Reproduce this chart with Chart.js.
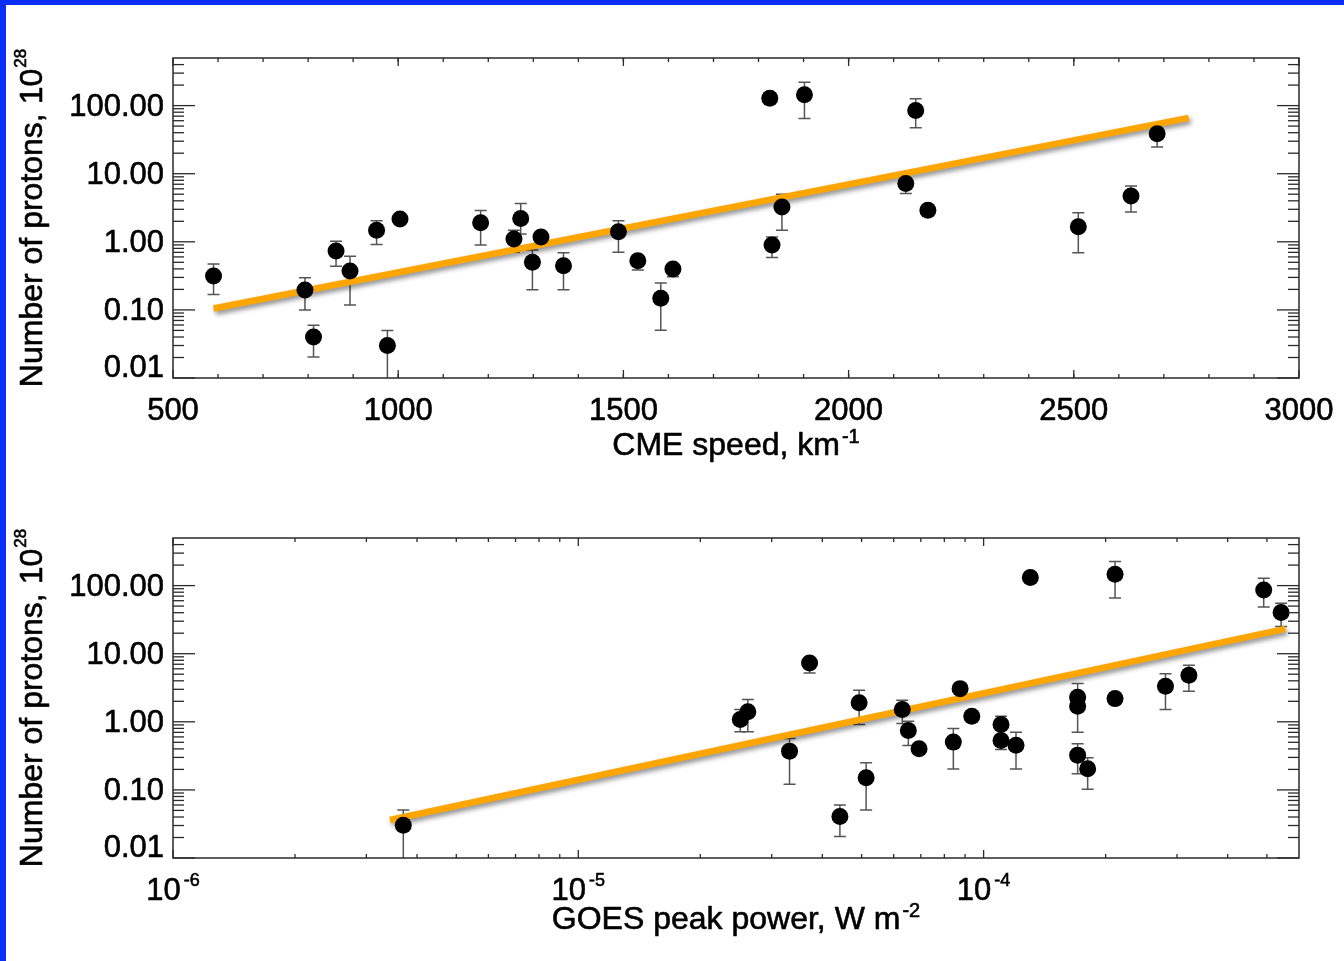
<!DOCTYPE html>
<html>
<head>
<meta charset="utf-8">
<title>Number of protons vs CME speed and GOES peak power</title>
<script src="https://cdn.jsdelivr.net/npm/chart.js@4/dist/chart.umd.min.js"></script>
<style>
  html, body { margin: 0; padding: 0; background: #ffffff; }
  body { width: 1344px; height: 961px; position: relative; overflow: hidden; }
  canvas.panel { position: absolute; left: 0; }
  #frameLeft { position: absolute; left: 0; top: 0; width: 6px; height: 961px; background: #0b2ef6; }
  #frameTop { position: absolute; left: 0; top: 0; width: 1344px; height: 5px; background: #0b2ef6; }
</style>
</head>
<body>
<canvas id="speedChart" class="panel" width="1344" height="480" style="top:0px"></canvas>
<canvas id="goesChart" class="panel" width="1344" height="481" style="top:480px"></canvas>
<div id="frameLeft"></div>
<div id="frameTop"></div>
<script>
// ---- Upper panel: CME speed (km/s) vs number of protons (1e28) ----
const cmeSpeed = [590, 793, 812, 862, 893, 952, 976, 1004, 1183, 1257, 1272, 1298, 1317, 1367,
                  1489, 1532, 1583, 1610, 1825, 1830, 1852, 1902, 2127, 2149, 2176, 2510, 2627, 2685];
const speedProtons = [0.315, 0.196, 0.040, 0.73, 0.372, 1.48, 0.030, 2.17, 1.90, 1.10, 2.20, 0.50, 1.18, 0.445,
                      1.40, 0.527, 0.148, 0.398, 128, 0.895, 3.25, 144, 7.16, 84.8, 2.91, 1.66, 4.71, 38.6];
const speedErrLow = [0.168, 0.100, 0.0203, 0.436, 0.118, 0.916, 0.005, null, 0.895, 0.70, 1.3, 0.198, null, 0.198,
                     0.70, 0.385, 0.0504, 0.307, null, 0.59, 1.48, 64.7, 5.11, 47.3, null, 0.69, 2.75, 24.6];
const speedErrHigh = [0.472, 0.297, 0.0597, 1.02, 0.611, 2.03, 0.0498, null, 2.88, 1.48, 3.65, 0.756, null, 0.69,
                      2.03, null, 0.248, null, null, 1.18, 4.99, 220, null, 126, null, 2.66, 6.61, 51];
const speedFitX = [590, 2755];
const speedFitY = [0.105, 66];

// ---- Lower panel: GOES peak power (W m^-2) vs number of protons (1e28) ----
const goesFlux = [3.70e-6, 2.51e-5, 2.62e-5, 3.32e-5, 3.72e-5, 4.42e-5, 4.93e-5, 5.13e-5, 6.30e-5, 6.52e-5,
                  6.93e-5, 8.42e-5, 8.75e-5, 9.35e-5, 1.104e-4, 1.104e-4, 1.202e-4, 1.304e-4, 1.706e-4, 1.706e-4,
                  1.706e-4, 1.806e-4, 2.11e-4, 2.11e-4, 2.81e-4, 3.21e-4, 4.91e-4, 5.42e-4];
const goesProtons = [0.0303, 1.08, 1.40, 0.371, 7.31, 0.0407, 1.90, 0.151, 1.51, 0.746,
                     0.402, 0.503, 3.07, 1.21, 0.913, 0.532, 0.454, 131, 2.29, 1.69,
                     0.324, 0.205, 147, 2.19, 3.32, 4.81, 86.5, 40.3];
const goesErrLow = [0.005, 0.714, 0.714, 0.121, 5.21, 0.0207, 0.913, 0.0508, 0.944, 0.45,
                    0.36, 0.202, null, null, null, 0.393, 0.202, null, null, 0.705,
                    0.173, 0.102, 66, null, 1.51, 2.81, 48.3, 25.1];
const goesErrHigh = [0.0508, 1.51, 2.12, 0.57, null, 0.0601, 2.9, 0.251, 2.07, 1.02,
                     null, 0.798, null, null, 1.21, null, 0.705, null, 3.64, null,
                     0.476, 0.297, 225, null, 5.09, 6.74, 128, 55.2];
const goesFitX = [3.43e-6, 5.55e-4];
const goesFitY = [0.0362, 23.2];

// ---- Axis ticks ----
const protonTickValues = [0.01, 0.1, 1, 10, 100];
const protonTickLabels = ['0.01', '0.10', '1.00', '10.00', '100.00'];
const speedTickValues = [500, 1000, 1500, 2000, 2500, 3000];
const speedTickLabels = ['500', '1000', '1500', '2000', '2500', '3000'];
const goesTickValues = [1e-6, 1e-5, 1e-4];
const goesTickExponents = ['-6', '-5', '-4'];

const FONT = '"Liberation Sans", Arial, Helvetica, sans-serif';
const AXIS_COLOR = '#2a2a2a';
const ERR_COLOR = '#555555';
const FIT_COLOR = '#FFA500';
const TEXT_COLOR = '#000000';

function logMinors(min, max) {
  const out = [];
  for (let e = Math.floor(Math.log10(min)); e <= Math.ceil(Math.log10(max)); e++) {
    for (let m = 2; m <= 9; m++) {
      const v = m * Math.pow(10, e);
      if (v > min * 1.0001 && v < max * 0.9999) out.push(v);
    }
  }
  return out;
}
function linearMinors(min, max, step) {
  const out = [];
  for (let v = min + step; v < max; v += step) out.push(v);
  return out;
}

// filled text with a hairline outline so the glyphs read a little heavier
function heavyText(ctx, s, x, y) {
  ctx.fillText(s, x, y);
  ctx.strokeText(s, x, y);
}

// text with a raised exponent, centred on x
function drawWithExponent(ctx, base, exp, x, y, baseSize, expSize, raise, gap) {
  ctx.font = baseSize + 'px ' + FONT;
  const wb = ctx.measureText(base).width;
  ctx.font = expSize + 'px ' + FONT;
  const we = ctx.measureText(exp).width;
  const start = x - (wb + gap + we) / 2;
  ctx.textAlign = 'left';
  ctx.textBaseline = 'alphabetic';
  ctx.font = baseSize + 'px ' + FONT;
  heavyText(ctx, base, start, y);
  ctx.font = expSize + 'px ' + FONT;
  heavyText(ctx, exp, start + wb + gap, y - raise);
}

const errorBarPlugin = {
  id: 'errorBars',
  beforeDatasetsDraw(chart, args, opts) {
    const { ctx, chartArea } = chart;
    const xs = chart.scales.x, ys = chart.scales.y;
    ctx.save();
    ctx.beginPath();
    ctx.rect(chartArea.left, chartArea.top, chartArea.right - chartArea.left, chartArea.bottom - chartArea.top);
    ctx.clip();
    ctx.strokeStyle = ERR_COLOR;
    ctx.lineWidth = 1.5;
    const cap = 6;
    opts.x.forEach((xv, i) => {
      const px = xs.getPixelForValue(xv);
      const py = ys.getPixelForValue(opts.y[i]);
      [opts.lo[i], opts.hi[i]].forEach(b => {
        if (b === null || b === undefined) return;
        const pb = ys.getPixelForValue(b);
        ctx.beginPath();
        ctx.moveTo(px, py); ctx.lineTo(px, pb);
        ctx.moveTo(px - cap, pb); ctx.lineTo(px + cap, pb);
        ctx.stroke();
      });
    });
    ctx.restore();
  }
};

const fitShadowPlugin = {
  id: 'fitShadow',
  beforeDatasetDraw(chart, args) {
    if (args.index !== 1) return;
    const ctx = chart.ctx;
    ctx.save();
    ctx.shadowColor = 'rgba(0,0,0,0.45)';
    ctx.shadowBlur = 5;
    ctx.shadowOffsetX = 2;
    ctx.shadowOffsetY = 3;
  },
  afterDatasetDraw(chart, args) {
    if (args.index !== 1) return;
    chart.ctx.restore();
  }
};

const framePlugin = {
  id: 'frame',
  afterDraw(chart, args, o) {
    const { ctx, chartArea: a } = chart;
    const xs = chart.scales.x, ys = chart.scales.y;
    ctx.save();
    ctx.strokeStyle = AXIS_COLOR;
    ctx.lineWidth = 1.5;
    ctx.strokeRect(a.left, a.top, a.right - a.left, a.bottom - a.top);

    const seg = (x1, y1, x2, y2) => { ctx.beginPath(); ctx.moveTo(x1, y1); ctx.lineTo(x2, y2); ctx.stroke(); };
    ctx.lineWidth = 1.3;
    o.xMajor.forEach(v => { const p = xs.getPixelForValue(v); seg(p, a.bottom, p, a.bottom - 8); seg(p, a.top, p, a.top + 8); });
    o.xMinor.forEach(v => { const p = xs.getPixelForValue(v); seg(p, a.bottom, p, a.bottom - 4); seg(p, a.top, p, a.top + 4); });
    o.yMajor.forEach(v => { const p = ys.getPixelForValue(v); seg(a.left, p, a.left + 22, p); seg(a.right, p, a.right - 22, p); });
    o.yMinor.forEach(v => { const p = ys.getPixelForValue(v); seg(a.left, p, a.left + 11, p); seg(a.right, p, a.right - 11, p); });

    // text styling
    ctx.fillStyle = TEXT_COLOR;
    ctx.strokeStyle = TEXT_COLOR;
    ctx.lineWidth = 0.6;
    ctx.lineJoin = 'round';

    // y tick labels
    ctx.font = '31px ' + FONT;
    ctx.textAlign = 'right';
    ctx.textBaseline = 'alphabetic';
    o.yMajor.forEach((v, i) => {
      const p = ys.getPixelForValue(v);
      heavyText(ctx, o.yLabels[i], a.left - 9, Math.min(p + 10.5, a.bottom - 1));
    });

    // x tick labels
    const lblY = a.bottom + 41.5;
    o.xMajor.forEach((v, i) => {
      const p = xs.getPixelForValue(v);
      if (o.xExponents) {
        drawWithExponent(ctx, '10', o.xExponents[i], p, lblY, 31, 18, 14, 3);
      } else {
        ctx.font = '31px ' + FONT;
        ctx.textAlign = 'center';
        heavyText(ctx, o.xLabels[i], p, lblY);
      }
    });

    // axis titles
    const cx = (a.left + a.right) / 2;
    drawWithExponent(ctx, o.xTitle[0], o.xTitle[1], cx, a.bottom + o.xTitleOffset, 32, 20, 12, 2);
    ctx.save();
    ctx.translate(41.5, (a.top + a.bottom) / 2);
    ctx.rotate(-Math.PI / 2);
    drawWithExponent(ctx, 'Number of protons, 10', '28', 0, 0, 32, 17, 16, 1);
    ctx.restore();
    ctx.restore();
  }
};

function makePanel(canvasId, spec) {
  const points = spec.x.map((v, i) => ({ x: v, y: spec.y[i] }));
  const fit = spec.fitX.map((v, i) => ({ x: v, y: spec.fitY[i] }));
  return new Chart(document.getElementById(canvasId), {
    type: 'scatter',
    data: {
      datasets: [
        { label: 'events', data: points, backgroundColor: '#000', borderWidth: 0,
          pointRadius: 8.5, pointHoverRadius: 8.5, order: 0 },
        { label: 'fit', type: 'line', data: fit, showLine: true, borderColor: FIT_COLOR,
          borderWidth: 6.5, borderCapStyle: 'butt', pointRadius: 0, fill: false, order: 1 }
      ]
    },
    options: {
      responsive: false,
      animation: false,
      devicePixelRatio: 1,
      layout: { padding: { left: 0, top: 58, right: 45, bottom: 0 } },
      plugins: {
        legend: { display: false },
        tooltip: { enabled: false },
        errorBars: { x: spec.x, y: spec.y, lo: spec.lo, hi: spec.hi },
        frame: spec.frame
      },
      scales: {
        x: { type: spec.xType, min: spec.xMin, max: spec.xMax,
             grid: { display: false }, border: { display: false }, ticks: { display: false },
             afterFit(s) { s.height = spec.xAxisHeight; } },
        y: { type: 'logarithmic', min: 0.01, max: 500,
             grid: { display: false }, border: { display: false }, ticks: { display: false },
             afterFit(s) { s.width = 173; } }
      }
    },
    plugins: [errorBarPlugin, fitShadowPlugin, framePlugin]
  });
}

const protonMinors = logMinors(0.01, 500);

makePanel('speedChart', {
  x: cmeSpeed, y: speedProtons, lo: speedErrLow, hi: speedErrHigh,
  fitX: speedFitX, fitY: speedFitY,
  xType: 'linear', xMin: 500, xMax: 3000, xAxisHeight: 102,
  frame: {
    xMajor: speedTickValues, xLabels: speedTickLabels, xMinor: linearMinors(500, 3000, 100),
    yMajor: protonTickValues, yLabels: protonTickLabels, yMinor: protonMinors,
    xTitle: ['CME speed, km', '-1'], xTitleOffset: 77
  }
});

makePanel('goesChart', {
  x: goesFlux, y: goesProtons, lo: goesErrLow, hi: goesErrHigh,
  fitX: goesFitX, fitY: goesFitY,
  xType: 'logarithmic', xMin: 1e-6, xMax: 6e-4, xAxisHeight: 103,
  frame: {
    xMajor: goesTickValues, xExponents: goesTickExponents, xMinor: logMinors(1e-6, 6e-4),
    yMajor: protonTickValues, yLabels: protonTickLabels, yMinor: protonMinors,
    xTitle: ['GOES peak power, W m', '-2'], xTitleOffset: 71
  }
});
</script>
</body>
</html>
